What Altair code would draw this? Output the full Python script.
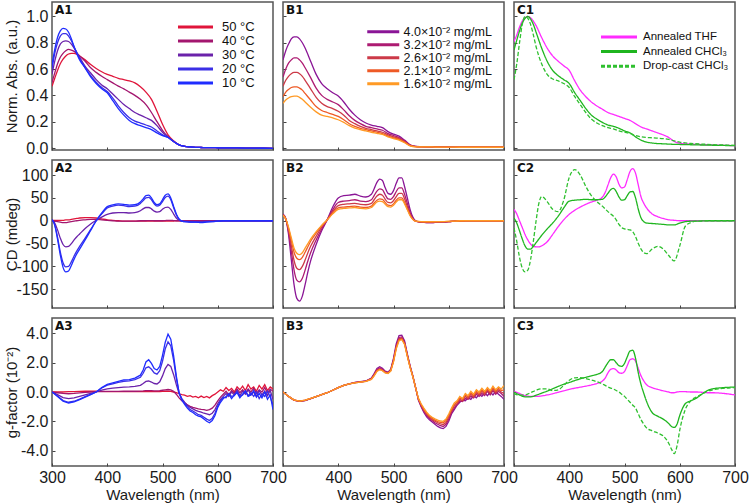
import altair as alt
import pandas as pd

FONT = "Liberation Sans"

# ---------------- names / colours ----------------
temps = ["50 °C", "40 °C", "30 °C", "20 °C", "10 °C"]
temp_colors = ["#e0153a", "#a3166f", "#6b22aa", "#3b2fe6", "#1f2cff"]
concs = ["4.0×10⁻² mg/mL", "3.2×10⁻² mg/mL", "2.6×10⁻² mg/mL", "2.1×10⁻² mg/mL", "1.6×10⁻² mg/mL"]
conc_colors = ["#8a1596", "#ad1b72", "#cc3a48", "#ee5a26", "#ff9a25"]
films = ["Annealed THF", "Annealed CHCl₃", "Drop-cast CHCl₃"]
film_colors = ["#ff2bff", "#1fb51f", "#2fc02f"]
film_dashes = [[1, 0], [1, 0], [4, 2]]

# ---------------- row 1 : normalised absorbance ----------------
wl1 = [300, 305, 310, 315, 320, 325, 330, 335, 340, 350, 360, 370, 380, 390, 400, 410, 420, 430, 440,
       450, 460, 470, 480, 490, 500, 510, 520, 530, 540, 550, 560, 570, 580, 590, 600, 620, 650, 700]

a1_50 = [0.47, 0.53, 0.59, 0.64, 0.675, 0.70, 0.715, 0.72, 0.72, 0.70, 0.67, 0.635, 0.605, 0.58, 0.56, 0.545, 0.53, 0.52, 0.51,
         0.495, 0.465, 0.425, 0.37, 0.28, 0.18, 0.10, 0.055, 0.025, 0.013, 0.008, 0.005, 0.004, 0.003, 0.003, 0.002, 0.001, 0.0, -0.003]
a1_40 = [0.50, 0.57, 0.64, 0.69, 0.72, 0.74, 0.75, 0.745, 0.735, 0.70, 0.66, 0.61, 0.575, 0.545, 0.52, 0.495, 0.47, 0.45, 0.425,
         0.40, 0.37, 0.33, 0.27, 0.20, 0.135, 0.085, 0.05, 0.024, 0.013, 0.008, 0.005, 0.004, 0.003, 0.003, 0.002, 0.001, 0.0, -0.003]
a1_30 = [0.56, 0.66, 0.74, 0.79, 0.81, 0.815, 0.81, 0.79, 0.76, 0.69, 0.62, 0.57, 0.52, 0.48, 0.45, 0.41, 0.37, 0.33, 0.30,
         0.27, 0.25, 0.23, 0.21, 0.17, 0.12, 0.085, 0.05, 0.024, 0.013, 0.008, 0.005, 0.004, 0.003, 0.003, 0.002, 0.001, 0.0, -0.003]
a1_20 = [0.60, 0.72, 0.80, 0.85, 0.87, 0.87, 0.85, 0.815, 0.77, 0.68, 0.61, 0.55, 0.50, 0.46, 0.43, 0.38, 0.32, 0.27, 0.23,
         0.205, 0.19, 0.175, 0.16, 0.13, 0.10, 0.08, 0.05, 0.024, 0.013, 0.008, 0.005, 0.004, 0.003, 0.003, 0.002, 0.001, 0.0, -0.003]
a1_10 = [0.63, 0.75, 0.84, 0.89, 0.91, 0.905, 0.88, 0.83, 0.77, 0.67, 0.61, 0.54, 0.49, 0.45, 0.42, 0.36, 0.30, 0.25, 0.21,
         0.185, 0.17, 0.155, 0.14, 0.115, 0.095, 0.08, 0.05, 0.024, 0.013, 0.008, 0.005, 0.004, 0.003, 0.003, 0.002, 0.001, 0.0, -0.003]

b1_40 = [0.67, 0.74, 0.79, 0.83, 0.845, 0.845, 0.83, 0.80, 0.76, 0.66, 0.56, 0.49, 0.45, 0.42, 0.395, 0.35, 0.295, 0.25, 0.215,
         0.19, 0.175, 0.165, 0.155, 0.125, 0.105, 0.09, 0.06, 0.025, 0.013, 0.01, 0.009, 0.009, 0.008, 0.008, 0.008, 0.007, 0.007, 0.006]
b1_32 = [0.54, 0.60, 0.645, 0.67, 0.685, 0.685, 0.67, 0.645, 0.61, 0.535, 0.455, 0.40, 0.37, 0.35, 0.33, 0.29, 0.245, 0.21, 0.185,
         0.165, 0.155, 0.145, 0.135, 0.11, 0.095, 0.08, 0.055, 0.022, 0.012, 0.01, 0.009, 0.009, 0.008, 0.008, 0.008, 0.007, 0.007, 0.006]
b1_26 = [0.47, 0.515, 0.545, 0.565, 0.575, 0.575, 0.565, 0.545, 0.515, 0.45, 0.385, 0.34, 0.315, 0.30, 0.28, 0.25, 0.21, 0.185, 0.165,
         0.15, 0.14, 0.13, 0.12, 0.10, 0.085, 0.072, 0.05, 0.02, 0.011, 0.009, 0.009, 0.008, 0.008, 0.008, 0.007, 0.007, 0.006, 0.006]
b1_21 = [0.39, 0.425, 0.445, 0.46, 0.465, 0.465, 0.455, 0.44, 0.415, 0.365, 0.315, 0.285, 0.27, 0.255, 0.24, 0.215, 0.185, 0.165, 0.15,
         0.14, 0.13, 0.12, 0.11, 0.09, 0.078, 0.066, 0.045, 0.018, 0.01, 0.009, 0.008, 0.008, 0.008, 0.007, 0.007, 0.007, 0.006, 0.006]
b1_16 = [0.34, 0.365, 0.38, 0.39, 0.395, 0.395, 0.385, 0.37, 0.35, 0.31, 0.275, 0.25, 0.24, 0.23, 0.215, 0.195, 0.17, 0.152, 0.14,
         0.13, 0.12, 0.112, 0.103, 0.085, 0.072, 0.06, 0.04, 0.016, 0.009, 0.008, 0.008, 0.008, 0.007, 0.007, 0.007, 0.006, 0.006, 0.006]

c1_thf = [0.81, 0.86, 0.92, 0.965, 0.99, 1.0, 0.99, 0.965, 0.93, 0.84, 0.76, 0.70, 0.66, 0.625, 0.59, 0.51, 0.44, 0.39, 0.35,
          0.32, 0.295, 0.27, 0.255, 0.24, 0.225, 0.21, 0.185, 0.16, 0.145, 0.13, 0.115, 0.10, 0.08, 0.05, 0.037, 0.03, 0.025, 0.018]
c1_chcl3 = [0.745, 0.82, 0.89, 0.95, 0.985, 1.0, 0.98, 0.94, 0.88, 0.76, 0.66, 0.59, 0.55, 0.52, 0.49, 0.42, 0.36, 0.30, 0.25,
            0.22, 0.195, 0.175, 0.165, 0.15, 0.13, 0.115, 0.085, 0.06, 0.045, 0.038, 0.034, 0.032, 0.03, 0.028, 0.027, 0.025, 0.022, 0.018]
c1_drop = [0.52, 0.64, 0.80, 0.94, 1.0, 0.985, 0.94, 0.86, 0.77, 0.64, 0.56, 0.525, 0.51, 0.49, 0.46, 0.39, 0.33, 0.27, 0.22,
           0.19, 0.17, 0.155, 0.145, 0.13, 0.12, 0.11, 0.095, 0.085, 0.08, 0.078, 0.075, 0.072, 0.065, 0.055, 0.045, 0.035, 0.028, 0.02]

# ---------------- row 2 : CD (mdeg) ----------------
wl2 = [300, 305, 310, 315, 320, 325, 330, 335, 340, 345, 350,
       360, 370, 380, 390, 400, 410, 420, 430, 440, 450, 460,
       465, 470, 475, 480, 485, 490, 495, 500, 505, 510, 515, 520, 525, 530, 535, 540,
       550, 560, 570, 580, 590, 600, 610, 620, 630, 650, 700]

a2_50 = [1, 1, 1, 1, 1, 2, 2, 3, 4, 5, 6,
         7, 7, 6, 4, 2, 1, 0, -1, -1, -1, -1,
         -1, -1, -1, -1, -1, -1, -1, -1, -1, -1, -1, -0.5, 0, 0, 0, 0,
         0, 0, 0, 0, 0, 0, 0, 0, 0, 0, 0]
a2_40 = [0, -1, -2, -3, -4, -4, -3, -2, -1, 0, 1,
         2, 3, 3, 2, 1, 0, -1, -1, -1, -1, 0,
         0, 0, 0.5, 0.5, 0, 0, 0, 0, 0.5, 1, 1, 0.5, 0, 0, 0, 0,
         0, 0, 0, 0, 0, 0, 0, 0, 0, 0, 0]
a2_30 = [1, -5, -20, -38, -52, -57, -56, -50, -42, -35, -29,
         -17, -7, 1, 8, 14, 17, 18, 18, 17, 18, 22,
         26, 29, 29, 26, 21, 19, 20, 25, 29, 30, 25, 15, 6, 1, -1, -1,
         -2, -2, -2, -1, -1, 0, 0, 0, 0, 0, 0]
a2_20 = [2, -9, -36, -68, -92, -101, -100, -90, -77, -66, -56,
         -38, -19, 0, 15, 28, 32, 34, 33, 31, 32, 38,
         44, 50, 51, 46, 37, 32, 34, 42, 51, 54, 46, 29, 13, 3, -1, -2,
         -3, -3, -3, -2, -2, -1, 0, 0, 0, 0, 0]
a2_10 = [3, -10, -40, -75, -102, -112, -110, -98, -84, -72, -62,
         -42, -21, 0, 17, 31, 35, 37, 36, 34, 35, 41,
         48, 55, 56, 50, 40, 35, 37, 46, 56, 59, 50, 32, 15, 4, -1, -2,
         -3, -3, -4, -3, -2, -1, 0, 0, 0, 0, 0]

b2_40 = [15, 5, -30, -85, -140, -170, -176, -165, -140, -112, -88,
         -52, -22, 2, 30, 50, 55, 56, 58, 54, 52, 58,
         70, 84, 91, 88, 72, 60, 58, 66, 82, 94, 94, 75, 50, 25, 8, 0,
         -3, -4, -4, -3, -3, -2, -1, -1, 0, 0, 0]
b2_32 = [14, 4, -24, -66, -108, -130, -134, -126, -108, -88, -70,
         -42, -18, 2, 24, 40, 43, 44, 46, 43, 42, 46,
         55, 65, 70, 68, 57, 48, 47, 53, 64, 72, 72, 58, 38, 18, 5, -1,
         -3, -4, -4, -3, -3, -2, -1, -1, 0, 0, 0]
b2_26 = [13, 4, -20, -54, -87, -104, -107, -100, -86, -70, -56,
         -34, -14, 2, 20, 33, 36, 37, 38, 36, 35, 38,
         46, 54, 58, 56, 47, 40, 39, 44, 53, 60, 60, 48, 31, 15, 4, -1,
         -3, -3, -3, -3, -2, -2, -1, -1, 0, 0, 0]
b2_21 = [12, 4, -16, -43, -69, -82, -85, -80, -69, -57, -45,
         -27, -11, 2, 17, 28, 30, 31, 32, 30, 29, 32,
         39, 45, 48, 47, 40, 34, 33, 37, 45, 50, 50, 40, 26, 12, 3, -1,
         -2, -3, -3, -2, -2, -2, -1, -1, 0, 0, 0]
b2_16 = [12, 4, -14, -37, -60, -71, -74, -70, -60, -50, -40,
         -24, -10, 2, 15, 25, 27, 28, 29, 27, 26, 29,
         35, 41, 43, 42, 36, 31, 30, 34, 41, 46, 46, 37, 24, 11, 3, -1,
         -2, -2, -2, -2, -2, -1, -1, 0, 0, 0, 0]

c2_thf = [25, 15, 0, -15, -30, -42, -51, -56, -57, -57, -55,
          -46, -30, -13, 2, 14, 23, 30, 36, 41, 45, 52,
          62, 78, 94, 102, 96, 80, 72, 74, 90, 108, 114, 104, 78, 52, 38, 28,
          15, 9, 5, 2, 1, 0, 0, 0, 0, 0, 0]
c2_chcl3 = [6, -5, -22, -40, -55, -62, -62, -56, -48, -40, -32,
            -18, -5, 10, 28, 43, 45, 46, 47, 46, 46, 47,
            52, 60, 68, 71, 64, 52, 45, 46, 55, 63, 64, 50, 25, 6, -2, -5,
            -6, -7, -8, -9, -9, -5, -2, -1, -1, 0, 0]
c2_drop = [-16, -45, -80, -104, -112, -108, -85, -45, 0, 38, 53,
           42, 25, 20, 45, 95, 112, 100, 75, 55, 42, 32,
           26, 20, 15, 10, 2, -8, -15, -18, -19, -20, -24, -35, -50, -62, -70, -72,
           -62, -56, -62, -76, -88, -55, -12, -4, -1, 0, 0]

# ---------------- row 3 : g-factor (10^-2) ----------------
wl3 = [300, 310, 320, 330, 340, 350, 360, 370, 380, 390, 400, 410, 420, 430, 440, 450, 460,
       465, 470, 475, 480, 485, 490, 495, 500, 505, 510, 515, 520, 525, 530, 535,
       540, 545, 550, 555, 560, 565, 570, 575, 580, 585, 590, 595, 600,
       605, 610, 615, 620, 625, 630, 635, 640, 645, 650, 655, 660, 665, 670, 675, 680, 685, 690, 695, 700]

a3_50 = [0.0, 0.0, 0.0, 0.02, 0.03, 0.04, 0.05, 0.05, 0.05, 0.04, 0.03, 0.02, 0.02, 0.02, 0.02, 0.02, 0.02,
         0.02, 0.03, 0.03, 0.03, 0.03, 0.03, 0.03, 0.04, 0.05, 0.05, 0.04, 0.0, -0.05, -0.12, -0.18,
         -0.22, -0.3, -0.25, -0.35, -0.3, -0.4, -0.28, -0.38, -0.3, -0.4, -0.25, -0.15, 0.0,
         0.15, 0.05, 0.3, 0.1, 0.25, 0.0, 0.35, 0.15, 0.4, 0.1, 0.5, 0.2, 0.35, 0.05, 0.45, 0.2, 0.5, 0.1, 0.35, 0.2]
a3_40 = [0.0, -0.05, -0.1, -0.12, -0.1, -0.06, -0.02, 0.0, 0.02, 0.03, 0.04, 0.04, 0.04, 0.05, 0.05, 0.05, 0.06,
         0.07, 0.09, 0.1, 0.09, 0.08, 0.08, 0.09, 0.12, 0.15, 0.17, 0.15, 0.05, -0.15, -0.4, -0.6,
         -0.75, -0.88, -0.98, -1.05, -1.1, -1.15, -1.18, -1.2, -1.25, -1.2, -1.1, -0.9, -0.6,
         -0.35, -0.15, 0.05, -0.2, 0.1, -0.1, 0.2, -0.05, 0.15, -0.1, 0.2, 0.0, 0.25, -0.1, 0.15, 0.0, 0.3, -0.05, 0.2, 0.05]
a3_30 = [0.0, -0.18, -0.38, -0.45, -0.4, -0.3, -0.2, -0.1, 0.0, 0.12, 0.22, 0.26, 0.3, 0.33, 0.35, 0.38, 0.45,
         0.58, 0.72, 0.75, 0.68, 0.58, 0.55, 0.7, 1.1, 1.6, 1.88, 1.75, 1.2, 0.5, -0.1, -0.45,
         -0.7, -0.9, -1.05, -1.15, -1.25, -1.32, -1.38, -1.45, -1.5, -1.55, -1.45, -1.2, -0.8,
         -0.5, -0.3, -0.1, -0.3, 0.0, -0.2, 0.1, -0.25, 0.05, -0.15, 0.15, -0.2, 0.0, -0.3, 0.1, -0.2, 0.05, -0.25, 0.1, -0.5]
a3_20 = [0.0, -0.28, -0.58, -0.7, -0.63, -0.48, -0.32, -0.16, 0.0, 0.27, 0.47, 0.56, 0.65, 0.73, 0.76, 0.84, 1.0,
         1.28, 1.65, 1.72, 1.55, 1.3, 1.22, 1.45, 2.1, 2.95, 3.42, 3.15, 2.2, 0.95, -0.05, -0.5,
         -0.78, -1.0, -1.2, -1.3, -1.42, -1.55, -1.6, -1.72, -1.85, -1.95, -1.8, -1.45, -0.95,
         -0.6, -0.35, -0.4, -0.1, -0.3, -0.25, 0.05, -0.3, -0.2, 0.1, -0.25, -0.05, -0.3, 0.0, -0.45, -0.15, -0.3, 0.05, -0.35, -0.9]
a3_10 = [0.0, -0.3, -0.62, -0.75, -0.68, -0.52, -0.35, -0.18, 0.0, 0.3, 0.52, 0.62, 0.72, 0.82, 0.85, 0.95, 1.15,
         1.5, 2.05, 2.2, 1.95, 1.6, 1.5, 1.75, 2.5, 3.4, 3.95, 3.6, 2.5, 1.1, -0.05, -0.55,
         -0.85, -1.1, -1.3, -1.4, -1.55, -1.65, -1.7, -1.85, -2.0, -2.1, -1.95, -1.6, -1.05,
         -0.7, -0.45, -0.3, -0.15, -0.45, -0.2, -0.05, -0.4, -0.15, 0.05, -0.3, -0.2, 0.1, -0.35, -0.1, -0.4, 0.0, -0.5, -0.2, -1.2]

b3_40 = [0.0, -0.3, -0.55, -0.64, -0.58, -0.45, -0.32, -0.18, -0.05, 0.12, 0.3, 0.45, 0.55, 0.65, 0.7, 0.75, 0.95,
         1.25, 1.6, 1.72, 1.62, 1.42, 1.35, 1.55, 2.3, 3.3, 3.85, 3.88, 3.5, 2.6, 1.8, 1.1,
         0.3, -0.55, -1.0, -1.4, -1.7, -1.9, -2.05, -2.2, -2.35, -2.45, -2.5, -2.35, -2.0,
         -1.5, -1.2, -0.9, -0.7, -0.55, -0.6, -0.4, -0.5, -0.25, -0.4, -0.15, -0.3, -0.05, -0.25, 0.0, -0.2, 0.05, -0.15, -0.3, -0.5]
b3_32 = [0.0, -0.3, -0.55, -0.63, -0.57, -0.45, -0.32, -0.18, -0.05, 0.12, 0.3, 0.45, 0.55, 0.64, 0.69, 0.74, 0.92,
         1.2, 1.52, 1.64, 1.55, 1.38, 1.32, 1.5, 2.2, 3.15, 3.72, 3.76, 3.4, 2.55, 1.75, 1.08,
         0.3, -0.5, -0.95, -1.3, -1.6, -1.8, -1.95, -2.1, -2.2, -2.3, -2.35, -2.2, -1.85,
         -1.4, -1.1, -0.85, -0.6, -0.65, -0.45, -0.5, -0.3, -0.4, -0.15, -0.3, -0.1, -0.25, 0.05, -0.2, 0.1, -0.15, 0.05, -0.1, -0.3]
b3_26 = [0.0, -0.3, -0.55, -0.63, -0.57, -0.45, -0.32, -0.18, -0.05, 0.12, 0.3, 0.45, 0.55, 0.64, 0.69, 0.74, 0.9,
         1.17, 1.48, 1.58, 1.5, 1.35, 1.3, 1.47, 2.15, 3.08, 3.63, 3.68, 3.33, 2.5, 1.72, 1.06,
         0.3, -0.48, -0.9, -1.25, -1.52, -1.72, -1.88, -2.0, -2.1, -2.18, -2.22, -2.08, -1.72,
         -1.3, -0.95, -0.8, -0.5, -0.6, -0.3, -0.45, -0.15, -0.35, -0.05, -0.2, 0.05, -0.15, 0.15, -0.1, 0.2, -0.05, 0.15, 0.0, -0.1]
b3_21 = [0.0, -0.3, -0.55, -0.62, -0.56, -0.44, -0.31, -0.18, -0.05, 0.12, 0.3, 0.45, 0.55, 0.63, 0.68, 0.73, 0.88,
         1.13, 1.44, 1.55, 1.47, 1.32, 1.28, 1.45, 2.1, 3.02, 3.56, 3.62, 3.28, 2.46, 1.7, 1.05,
         0.3, -0.45, -0.85, -1.18, -1.45, -1.65, -1.8, -1.92, -2.02, -2.08, -2.1, -1.95, -1.6,
         -1.2, -0.85, -0.7, -0.4, -0.5, -0.2, -0.35, -0.05, -0.25, 0.05, -0.1, 0.15, -0.05, 0.2, 0.0, 0.3, 0.05, 0.25, 0.1, 0.15]
b3_16 = [0.0, -0.3, -0.54, -0.62, -0.56, -0.44, -0.31, -0.18, -0.05, 0.12, 0.3, 0.45, 0.55, 0.63, 0.68, 0.72, 0.86,
         1.1, 1.4, 1.52, 1.45, 1.3, 1.26, 1.43, 2.05, 2.95, 3.5, 3.58, 3.25, 2.44, 1.68, 1.04,
         0.3, -0.42, -0.8, -1.1, -1.38, -1.58, -1.72, -1.83, -1.92, -1.98, -2.0, -1.85, -1.5,
         -1.1, -0.75, -0.6, -0.3, -0.45, -0.1, -0.25, 0.05, -0.15, 0.15, 0.0, 0.25, 0.05, 0.3, 0.1, 0.4, 0.15, 0.35, 0.2, 0.45]

wlc3 = [300, 310, 320, 330, 340, 350, 360, 370, 380, 390, 400, 410, 420, 430, 440, 450, 460,
        465, 470, 475, 480, 485, 490, 495, 500, 505, 510, 515, 520, 525, 530, 535, 540,
        550, 560, 570, 580, 585, 590, 595, 600, 610, 620, 630, 640, 650, 660, 680, 700]
c3_thf = [0.05, -0.1, -0.25, -0.3, -0.3, -0.27, -0.2, -0.12, -0.02, 0.08, 0.18, 0.26, 0.33, 0.4, 0.48, 0.58, 0.75,
          0.95, 1.3, 1.55, 1.6, 1.5, 1.32, 1.28, 1.4, 1.8, 2.2, 2.27, 2.1, 1.6, 1.1, 0.75, 0.5,
          0.3, 0.18, 0.08, 0.0, -0.05, -0.05, 0.0, 0.02, 0.02, 0.0, 0.0, -0.02, -0.05, -0.05, -0.1, -0.2]
c3_chcl3 = [0.0, -0.2, -0.33, -0.33, -0.22, -0.08, 0.06, 0.22, 0.38, 0.53, 0.65, 0.78, 0.9, 1.0, 1.1, 1.2, 1.4,
            1.7, 2.0, 2.2, 2.2, 2.0, 1.8, 1.75, 1.95, 2.4, 2.8, 2.85, 2.3, 1.3, 0.5, -0.1, -0.65,
            -1.4, -1.65, -1.85, -2.15, -2.35, -2.42, -2.2, -1.6, -0.8, -0.6, -0.42, -0.15, 0.1, 0.22, 0.3, 0.34]
c3_drop = [-0.1, -0.22, -0.2, -0.05, 0.12, 0.22, 0.22, 0.1, 0.15, 0.45, 0.8, 0.97, 0.98, 0.92, 0.82, 0.7, 0.55,
           0.45, 0.35, 0.27, 0.2, 0.1, 0.0, -0.15, -0.3, -0.5, -0.7, -0.9, -1.1, -1.5, -1.9, -2.2, -2.45,
           -2.65, -2.8, -3.0, -3.5, -3.9, -4.2, -3.7, -2.6, -1.2, -0.6, -0.35, -0.15, 0.05, 0.15, 0.25, 0.3]


def make_df(wl, names, series):
    rows = []
    for k, (name, vals) in enumerate(zip(names, series)):
        for w, v in zip(wl, vals):
            rows.append({"wl": w, "v": v, "s": name, "o": k})
    return pd.DataFrame(rows)


XVALS = [300, 400, 500, 600, 700]


def panel(df, label, names, colors, ydom, yvals, ytitle=None, yfmt=".1f",
          xshow=False, hide300=False, legend=None, dashes=None, interp="monotone"):
    if xshow:
        xaxis = alt.Axis(values=XVALS, title="Wavelength (nm)",
                         labelExpr="datum.value == 300 ? '' : datum.label" if hide300 else "datum.label",
                         tickSize=3, offset=-3, labelPadding=3, titlePadding=2, labelFlush=False)
    else:
        xaxis = alt.Axis(values=XVALS, labels=False, title=None, tickSize=3, offset=-3)
    if ytitle:
        yaxis = alt.Axis(values=yvals, title=ytitle, format=yfmt,
                         labelExpr="replace(datum.label, '\u2212', '-')",
                         tickSize=3, offset=-3, labelPadding=4, titleX=-44,
                         titleBaseline="middle")
    else:
        yaxis = alt.Axis(values=yvals, labels=False, title=None, tickSize=3, offset=-3)

    leg = None
    if legend is not None:
        leg = alt.Legend(**legend)
    color = alt.Color("s:N", scale=alt.Scale(domain=names, range=colors), legend=leg)
    enc = dict(
        x=alt.X("wl:Q", scale=alt.Scale(domain=[300, 700], nice=False, zero=False), axis=xaxis),
        y=alt.Y("v:Q", scale=alt.Scale(domain=ydom, nice=False, zero=False), axis=yaxis),
        color=color,
        order=alt.Order("o:Q"),
    )
    if dashes is not None:
        enc["strokeDash"] = alt.StrokeDash("s:N", scale=alt.Scale(domain=names, range=dashes), legend=leg)
    lines = alt.Chart(df).mark_line(strokeWidth=1.3, clip=True, interpolate=interp).encode(**enc)
    lab = alt.Chart(pd.DataFrame({"t": [label]})).mark_text(
        align="left", baseline="top", font="DejaVu Sans", fontWeight="bold", fontSize=12, color="#111"
    ).encode(text="t:N", x=alt.value(3), y=alt.value(3))
    return alt.layer(lines, lab).properties(width=221, height=148)


def leg_opts(x, y, size, font, rowpad, loff):
    # custom horizontal stroke, 4 x sqrt(size) long, keeps legend rows compact
    return dict(orient="none", legendX=x, legendY=y, title=None, symbolType="M-4,0H4",
                symbolSize=size, symbolStrokeWidth=3, labelFont=FONT, labelFontSize=font,
                padding=0, rowPadding=rowpad, labelOffset=loff, labelColor="#111", labelLimit=0)


Y1 = [-0.015, 1.11]
Y1V = [0.0, 0.2, 0.4, 0.6, 0.8, 1.0]
Y2 = [-191, 133]
Y2V = [-150, -100, -50, 0, 50, 100]
Y3 = [-5.05, 5.05]
Y3V = [-4, -2, 0, 2, 4]

A1 = panel(make_df(wl1, temps, [a1_50, a1_40, a1_30, a1_20, a1_10]), "A1", temps, temp_colors, Y1, Y1V,
           ytitle="Norm. Abs. (a.u.)", yfmt=".1f", legend=leg_opts(137, 18.5, 76.6, 13, -0.3, 20))
B1 = panel(make_df(wl1, concs, [b1_40, b1_32, b1_26, b1_21, b1_16]), "B1", concs, conc_colors, Y1, Y1V,
           legend=leg_opts(94, 23.5, 64, 12.5, -1.8, 14))
C1 = panel(make_df(wl1, films, [c1_thf, c1_chcl3, c1_drop]), "C1", films, film_colors, Y1, Y1V,
           legend=leg_opts(99, 29, 81, 11.5, 2.6, 18), dashes=film_dashes)

A2 = panel(make_df(wl2, temps, [a2_50, a2_40, a2_30, a2_20, a2_10]), "A2", temps, temp_colors, Y2, Y2V,
           ytitle="CD (mdeg)", yfmt="d")
B2 = panel(make_df(wl2, concs, [b2_40, b2_32, b2_26, b2_21, b2_16]), "B2", concs, conc_colors, Y2, Y2V)
C2 = panel(make_df(wl2, films, [c2_thf, c2_chcl3, c2_drop]), "C2", films, film_colors, Y2, Y2V,
           dashes=film_dashes)

A3 = panel(make_df(wl3, temps, [a3_50, a3_40, a3_30, a3_20, a3_10]), "A3", temps, temp_colors, Y3, Y3V,
           ytitle="g-factor (10⁻²)", yfmt=".1f", xshow=True, interp="linear")
B3 = panel(make_df(wl3, concs, [b3_40, b3_32, b3_26, b3_21, b3_16]), "B3", concs, conc_colors, Y3, Y3V,
           xshow=True, hide300=True, interp="linear")
C3 = panel(make_df(wlc3, films, [c3_thf, c3_chcl3, c3_drop]), "C3", films, film_colors, Y3, Y3V,
           xshow=True, hide300=True, dashes=film_dashes)


chart = alt.concat(
    A1, B1, C1, A2, B2, C2, A3, B3, C3, columns=3, spacing=10, bounds="flush"
).resolve_scale(
    color="independent", strokeDash="independent"
).properties(
    padding={"left": 3, "top": 1, "right": 0, "bottom": 0},
    background="white",
).configure_view(
    stroke="#555", strokeWidth=1.5
).configure_axis(
    labelFont=FONT, labelFontSize=16, labelColor="#1a1a1a",
    titleFont=FONT, titleFontSize=15, titleFontWeight="normal", titleColor="#1a1a1a",
    domain=False, grid=False, ticks=True, tickColor="#444", tickWidth=1,
)

chart.save("out.html", embed_options={"renderer": "svg", "actions": False})
